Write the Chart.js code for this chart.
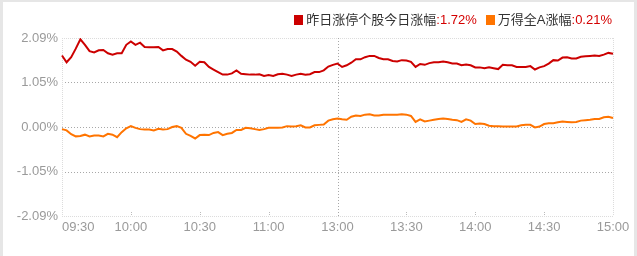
<!DOCTYPE html>
<html lang="zh">
<head>
    <meta charset="UTF-8">
    <title>昨日涨停个股今日涨幅</title>
    <script src="https://cdn.jsdelivr.net/npm/chart.js"></script>
    <style>
        body {
            margin: 0;
            background: #fff;
            font-family: "Liberation Sans", "Noto Sans CJK SC", sans-serif;
        }
        .wrap {
            position: relative;
            width: 637px;
            height: 256px;
        }
        .frame {
            position: absolute;
            left: 0; top: 0;
            width: 637px; height: 256px;
            box-sizing: border-box;
            border-left: 3px solid #e6e6e6;
            border-top: 2px solid #e6e6e6;
            border-right: 3px solid #e6e6e6;
            pointer-events: none;
        }
        .legend {
            position: absolute;
            right: 25px;
            top: 12px;
            font-size: 13px;
            line-height: 16px;
            color: #333;
            white-space: nowrap;
        }
        .legend .sq {
            display: inline-block;
            width: 9px; height: 10px;
            margin-right: 3px;
            vertical-align: -1px;
        }
        .legend .val { color: #d40000; }
        .legend .gap { display: inline-block; width: 9px; }
    </style>
</head>
<body>
<div class="wrap">
    <canvas id="chart" width="637" height="256"></canvas>
    <div class="legend" id="legend"></div>
    <div class="frame"></div>
</div>

<script>
    // 时间轴 (每2分钟一个点, 11:30 与 13:00 合并)
    var times = [];
    for (var m = 0; m < 120; m += 2) {
        var t = 9 * 60 + 30 + m;
        times.push(String(Math.floor(t / 60)).padStart(2, "0") + ":" + String(t % 60).padStart(2, "0"));
    }
    for (var a = 0; a <= 120; a += 2) {
        var t2 = 13 * 60 + a;
        times.push(String(Math.floor(t2 / 60)).padStart(2, "0") + ":" + String(t2 % 60).padStart(2, "0"));
    }

    var tickTimes = ["09:30", "10:00", "10:30", "11:00", "13:00", "13:30", "14:00", "14:30", "15:00"];
    var yTicks = [-2.09, -1.05, 0, 1.05, 2.09];

    var names = ["昨日涨停个股今日涨幅", "万得全A涨幅"];
    var colors = ["#cc0000", "#ff7400"];

    // 昨日涨停个股今日涨幅 (%)
    var limitUp = [
        1.68, 1.52, 1.64, 1.84, 2.06, 1.93, 1.78, 1.75, 1.80, 1.81,
        1.73, 1.70, 1.73, 1.73, 1.93, 2.01, 1.93, 1.98, 1.88, 1.87,
        1.87, 1.88, 1.80, 1.83, 1.83, 1.77, 1.67, 1.58, 1.53, 1.44,
        1.53, 1.52, 1.41, 1.35, 1.29, 1.23, 1.23, 1.26, 1.33, 1.25,
        1.24, 1.23, 1.23, 1.24, 1.20, 1.22, 1.20, 1.24, 1.25, 1.23,
        1.20, 1.23, 1.25, 1.23, 1.24, 1.29, 1.29, 1.33, 1.42, 1.46,
        1.49,
        1.41, 1.45, 1.51, 1.59, 1.59, 1.64, 1.67, 1.67, 1.62, 1.59,
        1.59, 1.55, 1.54, 1.57, 1.56, 1.53, 1.41, 1.48, 1.46, 1.50,
        1.52, 1.52, 1.54, 1.52, 1.49, 1.49, 1.45, 1.47, 1.45, 1.40,
        1.40, 1.38, 1.40, 1.38, 1.36, 1.46, 1.45, 1.45, 1.41, 1.41,
        1.41, 1.43, 1.35, 1.40, 1.43, 1.49, 1.57, 1.56, 1.63, 1.64,
        1.61, 1.61, 1.65, 1.66, 1.67, 1.68, 1.67, 1.70, 1.74, 1.72
    ];

    // 万得全A涨幅 (%)
    var windA = [
        -0.05, -0.08, -0.17, -0.22, -0.21, -0.18, -0.22, -0.20, -0.20, -0.22,
        -0.16, -0.18, -0.24, -0.12, -0.03, 0.02, -0.02, -0.05, -0.06, -0.06,
        -0.08, -0.04, -0.06, -0.05, 0.00, 0.02, -0.02, -0.16, -0.21, -0.27,
        -0.19, -0.18, -0.19, -0.14, -0.12, -0.19, -0.16, -0.14, -0.07, -0.07,
        -0.02, -0.03, -0.05, -0.07, -0.05, -0.02, -0.02, -0.02, -0.01, 0.02,
        0.01, 0.02, 0.04, -0.01, -0.01, 0.04, 0.05, 0.06, 0.15, 0.18,
        0.20,
        0.18, 0.17, 0.24, 0.27, 0.26, 0.29, 0.30, 0.27, 0.27, 0.29,
        0.29, 0.29, 0.29, 0.30, 0.29, 0.26, 0.12, 0.18, 0.13, 0.15,
        0.17, 0.19, 0.20, 0.19, 0.17, 0.16, 0.12, 0.18, 0.15, 0.07,
        0.08, 0.07, 0.03, 0.02, 0.02, 0.01, 0.01, 0.01, 0.01, 0.04,
        0.05, 0.05, -0.01, 0.01, 0.07, 0.09, 0.09, 0.11, 0.13, 0.12,
        0.11, 0.12, 0.15, 0.16, 0.17, 0.19, 0.19, 0.23, 0.24, 0.21
    ];

    var seriesVals = [limitUp, windA];

    // 图例 (名称 + 最新值)
    var legendHtml = "";
    for (var i = 0; i < names.length; i++) {
        if (i > 0) legendHtml += '<span class="gap"></span>';
        var last = seriesVals[i][seriesVals[i].length - 1];
        legendHtml += '<span class="sq" style="background:' + colors[i] + '"></span>' +
            names[i] + '<span class="val">:' + last.toFixed(2) + '%</span>';
    }
    document.getElementById("legend").innerHTML = legendHtml;

    var labelFont = '13px "Liberation Sans", "Noto Sans CJK SC", sans-serif';

    // 网格线 + 时间标签
    var gridPlugin = {
        id: "gridPlugin",
        beforeDatasetsDraw: function (chart) {
            var ctx = chart.ctx;
            var area = chart.chartArea;
            var xs = chart.scales.x, ys = chart.scales.y;
            ctx.save();
            ctx.lineWidth = 1;

            yTicks.forEach(function (v) {
                var y = Math.round(ys.getPixelForValue(v)) + 0.5;
                var edge = (v === yTicks[0] || v === yTicks[yTicks.length - 1]);
                ctx.strokeStyle = edge ? "#dcdcdc" : "#a8a8a8";
                ctx.setLineDash(edge ? [1, 1] : [1, 2]);
                ctx.beginPath();
                ctx.moveTo(area.left, y);
                ctx.lineTo(area.right, y);
                ctx.stroke();
            });

            tickTimes.forEach(function (lab, k) {
                var x = Math.round(xs.getPixelForValue(times.indexOf(lab))) + 0.5;
                ctx.beginPath();
                if (k === 0 || k === tickTimes.length - 1) {
                    ctx.strokeStyle = "#dcdcdc";
                    ctx.setLineDash([1, 1]);
                    ctx.moveTo(x, area.top);
                    ctx.lineTo(x, area.bottom);
                } else if (lab === "13:00") {
                    ctx.strokeStyle = "#a8a8a8";
                    ctx.setLineDash([1, 2]);
                    ctx.moveTo(x, area.top);
                    ctx.lineTo(x, area.bottom);
                } else {
                    ctx.strokeStyle = "#bbbbbb";
                    ctx.setLineDash([1, 1]);
                    ctx.moveTo(x, area.bottom - 4);
                    ctx.lineTo(x, area.bottom);
                }
                ctx.stroke();
            });

            ctx.setLineDash([]);
            ctx.font = labelFont;
            ctx.fillStyle = "#9a9a9a";
            ctx.textBaseline = "middle";
            tickTimes.forEach(function (lab, k) {
                var x = xs.getPixelForValue(times.indexOf(lab));
                ctx.textAlign = k === 0 ? "left" : "center";
                ctx.fillText(lab, k === 0 ? area.left : x, area.bottom + 11);
            });
            ctx.restore();
        }
    };

    var datasets = names.map(function (n, i) {
        return {
            label: n,
            data: seriesVals[i],
            borderColor: colors[i],
            borderWidth: 2,
            pointRadius: 0,
            tension: 0,
            fill: false
        };
    });

    new Chart(document.getElementById("chart").getContext("2d"), {
        type: "line",
        data: { labels: times, datasets: datasets },
        plugins: [gridPlugin],
        options: {
            responsive: false,
            animation: false,
            layout: { padding: { left: 0, right: 24, top: 38, bottom: 40 } },
            plugins: { legend: { display: false }, tooltip: { enabled: false } },
            scales: {
                x: {
                    type: "category",
                    ticks: { display: false },
                    grid: { display: false },
                    border: { display: false },
                    afterFit: function (s) { s.height = 0; }
                },
                y: {
                    min: -2.09,
                    max: 2.09,
                    afterBuildTicks: function (s) {
                        s.ticks = yTicks.map(function (v) { return { value: v }; });
                    },
                    ticks: {
                        color: "#9a9a9a",
                        padding: 4,
                        font: { size: 13, family: '"Liberation Sans", "Noto Sans CJK SC", sans-serif' },
                        callback: function (v) { return v.toFixed(2) + "%"; }
                    },
                    grid: { display: false, drawTicks: false },
                    border: { display: false },
                    afterFit: function (s) { s.width = 62; }
                }
            }
        }
    });
</script>
</body>
</html>
